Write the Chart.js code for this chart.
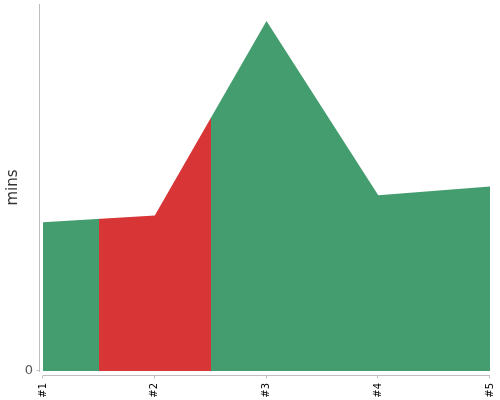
<!DOCTYPE html>
<html>
<head>
<meta charset="utf-8">
<script src="https://cdn.jsdelivr.net/npm/chart.js@4"></script>
<style>
html,body{margin:0;padding:0;background:#fff;}
#wrap{width:500px;height:400px;}
</style>
</head>
<body>
<div id="wrap"><canvas id="c" width="500" height="400"></canvas></div>
<script>
const categories = ['#1', '#2', '#3', '#4', '#5'];
const minsValues = [40.5, 42.4, 95.4, 47.9, 50.3];
const yTickLabels = ['0'];
const highlightIndex = 1;
const GREEN = 'rgb(68,157,110)';
const RED = 'rgb(216,53,54)';
const AXIS = 'rgb(190,190,190)';

function bandFill(ctx) {
  const chart = ctx.chart;
  const area = chart.chartArea;
  const xs = chart.scales.x;
  if (!area || !xs) return GREEN;
  const a = xs.getPixelForValue(highlightIndex - 0.5);
  const b = xs.getPixelForValue(highlightIndex + 0.5);
  const g = chart.ctx.createLinearGradient(area.left, 0, area.right, 0);
  const w = area.right - area.left;
  const p1 = Math.max(0, Math.min(1, (a - area.left) / w));
  const p2 = Math.max(0, Math.min(1, (b - area.left) / w));
  g.addColorStop(0, GREEN);
  g.addColorStop(p1, GREEN);
  g.addColorStop(p1, RED);
  g.addColorStop(p2, RED);
  g.addColorStop(p2, GREEN);
  g.addColorStop(1, GREEN);
  return g;
}

const axisPlugin = {
  id: 'axisLines',
  afterDraw(chart) {
    const c = chart.ctx, area = chart.chartArea;
    const xs = chart.scales.x, ys = chart.scales.y;
    c.save();
    c.strokeStyle = AXIS;
    c.lineWidth = 1;
    c.beginPath();
    const yx = area.left - 3.5;
    c.moveTo(yx, area.top);
    c.lineTo(yx, area.bottom + 1);
    const y0 = ys.getPixelForValue(0);
    c.moveTo(yx - 3, Math.round(y0) - 0.5);
    c.lineTo(yx, Math.round(y0) - 0.5);
    const xy = area.bottom + 4.5;
    c.moveTo(area.left, xy);
    c.lineTo(area.right, xy);
    categories.forEach((_, i) => {
      const px = Math.round(xs.getPixelForValue(i)) - 0.5;
      c.moveTo(px, xy);
      c.lineTo(px, xy + 3);
    });
    c.stroke();
    c.restore();
  }
};

new Chart(document.getElementById('c'), {
  type: 'line',
  data: {
    labels: categories,
    datasets: [{
      data: minsValues,
      fill: 'origin',
      backgroundColor: bandFill,
      borderWidth: 0,
      borderColor: 'rgba(0,0,0,0)',
      pointRadius: 0,
      pointHoverRadius: 0,
      tension: 0
    }]
  },
  options: {
    responsive: false,
    animation: false,
    devicePixelRatio: 1,
    layout: { padding: { left: 0, right: 10, top: 4, bottom: 0 } },
    plugins: { legend: { display: false }, tooltip: { enabled: false } },
    scales: {
      x: {
        offset: false,
        grid: { display: false, drawTicks: false },
        border: { display: false },
        ticks: {
          color: '#000',
          font: { family: 'DejaVu Sans', size: 10 },
          minRotation: 90, maxRotation: 90,
          padding: 12,
          autoSkip: false
        },
        afterFit(s) { s.height = 29; s.paddingLeft = 0; s.paddingRight = 0; }
      },
      y: {
        min: 0, max: 100,
        grid: { display: false, drawTicks: false },
        border: { display: false },
        ticks: {
          color: '#555',
          font: { family: 'DejaVu Sans', size: 13 },
          padding: 10,
          stepSize: 100,
          callback: (v) => (v === 0 ? yTickLabels[0] : '')
        },
        title: {
          display: true,
          text: 'mins',
          color: '#333',
          font: { family: 'DejaVu Sans', size: 15 },
          padding: { top: 4, bottom: 0 }
        },
        afterFit(s) { s.width = 43; s.paddingTop = 0; s.paddingBottom = 0; }
      }
    }
  },
  plugins: [axisPlugin]
});
</script>
</body>
</html>
